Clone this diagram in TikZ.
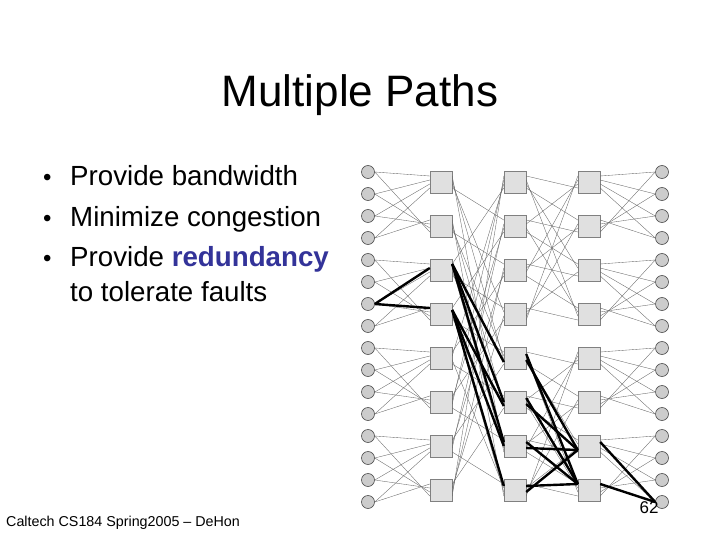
\documentclass[tikz,border=0pt]{standalone}
\usepackage{fontspec}
\setmainfont{Liberation Sans}
\begin{document}
\begin{tikzpicture}[x=1pt,y=-1pt,
  term/.style={circle,draw=black!70,fill=black!20,minimum size=13pt,inner sep=0pt,line width=0.6pt},
  sw/.style={draw=black!50,fill=black!12,minimum width=22pt,minimum height=22pt,inner sep=0pt},
  thin/.style={draw=black!60,line width=0.35pt},
  thick/.style={draw=black,line width=2.4pt},
  txt/.style={anchor=base west,font=\fontsize{27.7}{30}\selectfont,inner sep=0pt},
  bul/.style={anchor=base west,font=\fontsize{24}{28}\selectfont,inner sep=0pt}]
\useasboundingbox (0,0) rectangle (720,540);
\fill[white] (0,0) rectangle (720,540);
\node[font=\fontsize{44}{50}\selectfont] (title) at (360,95) {Multiple Paths};
\node[bul] (b1) at (43,186) {•};
\node[txt] (t1) at (70,186) {Provide bandwidth};
\node[bul] (b2) at (43,226) {•};
\node[txt] (t2) at (70,226) {Minimize congestion};
\node[bul] (b3) at (43,266) {•};
\node[txt] (t3) at (70,266) {Provide \textbf{\color[HTML]{333399}redundancy}};
\node[txt] (t4) at (70,301) {to tolerate faults};
\node[anchor=base west,font=\fontsize{14.3}{16}\selectfont,inner sep=0pt] (foot) at (6,526) {Caltech CS184 Spring2005 -- DeHon};
% network
\foreach \i in {0,...,15}{
  \node[term] (L\i) at (368,{172+22*\i}) {};
  \node[term] (R\i) at (662,{172+22*\i}) {};
}
\foreach \j in {0,...,7}{
  \node[sw] (A\j) at (441,{182+44*\j}) {};
  \node[sw] (B\j) at (515,{182+44*\j}) {};
  \node[sw] (C\j) at (589,{182+44*\j}) {};
}
\foreach \i in {0,...,15}{
  \pgfmathtruncatemacro{\g}{2*floor(\i/4)}
  \pgfmathtruncatemacro{\h}{\g+1}
  \pgfmathsetmacro{\dy}{mod(\i,4)*4-6}
  \draw[thin] (L\i.east) -- ([yshift=-\dy pt]A\g.west);
  \draw[thin] (L\i.east) -- ([yshift=\dy pt]A\h.west);
  \draw[thin] (R\i.west) -- ([yshift=-\dy pt]C\g.east);
  \draw[thin] (R\i.west) -- ([yshift=\dy pt]C\h.east);
}
\foreach \j in {0,...,7}{
  \foreach \k/\o in {1/-6,3/-2,4/2,6/6}{
    \pgfmathtruncatemacro{\t}{mod(\j+\k,8)}
    \draw[thin] ([yshift=\o pt]A\j.east) -- ([yshift=-\o pt]B\t.west);
  }
  \pgfmathtruncatemacro{\base}{4*floor(\j/4)}
  \foreach \k/\o in {0/-6,1/-2,2/2,3/6}{
    \pgfmathtruncatemacro{\t}{\base+mod(\j+\k+1,4)}
    \draw[thin] ([yshift=\o pt]B\j.east) -- ([yshift=-\o pt]C\t.west);
  }
}
% highlighted redundant paths
\draw[thick] (L6.east) -- ([yshift=2pt]A2.west);
\draw[thick] (L6.east) -- ([yshift=6pt]A3.west);
\foreach \t/\o in {4/-4,5/0,6/4}{\draw[thick] ([yshift=6pt]A2.east) -- ([yshift=\o pt]B\t.west);}
\foreach \t/\o in {5/-4,6/0,7/4}{\draw[thick] ([yshift=4pt]A3.east) -- ([yshift=\o pt]B\t.west);}
\foreach \s in {4,5,6,7}{
  \draw[thick] ([yshift=-2pt]B\s.east) -- ([yshift=-4pt]C6.west);
  \draw[thick] ([yshift=4pt]B\s.east) -- ([yshift=6pt]C7.west);
}
\draw[thick] ([yshift=4pt]C6.east) -- (R15.west);
\draw[thick] ([yshift=6pt]C7.east) -- (R15.west);
\node[anchor=base,font=\fontsize{17}{20}\selectfont,inner sep=0pt] (pg) at (649,513) {62};
\end{tikzpicture}
\end{document}
